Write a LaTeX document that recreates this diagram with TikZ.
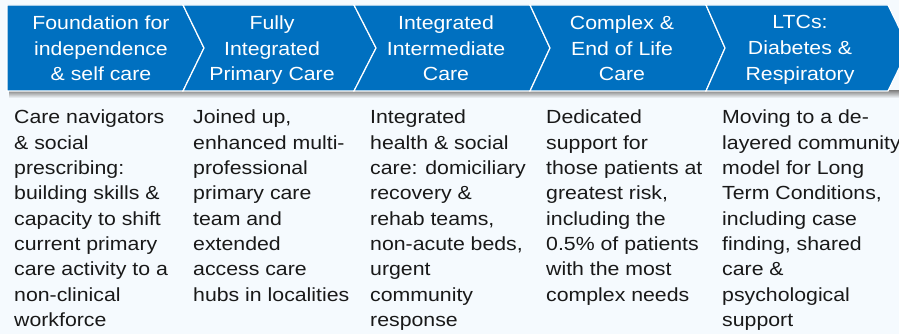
\documentclass[tikz,border=0pt]{standalone}
\usepackage{fontspec}
\setmainfont{Liberation Sans}[FakeStretch=1.12]
\usepackage{xcolor}
\usepackage{tikz}
\usetikzlibrary{positioning,calc}

\definecolor{stageblue}{RGB}{0,112,192}
\definecolor{pagebg}{RGB}{245,250,254}
\definecolor{bodytext}{RGB}{25,25,25}

\begin{document}
\begin{tikzpicture}[x=1pt, y=-1pt,
  chevron/.style={fill=stageblue, draw=white, line width=1.2pt, line join=miter},
  stagehead/.style={anchor=north, inner sep=0pt, align=center, text=white, font=\fontsize{19}{25.7}\selectfont},
  stagebody/.style={anchor=north west, inner sep=0pt, align=left, text=bodytext, font=\fontsize{19}{25.3}\selectfont}]
\useasboundingbox (0,0) rectangle (899,334);
\fill[pagebg] (0,0) rectangle (899,334);

% Shadow under the band
\shade[top color=black!45, bottom color=pagebg] (9,91) rectangle (899,98);

% Chevrons
\draw[chevron] (7,5) -- (183,5) -- (204,48) -- (183,91) -- (7,91) -- cycle;
\draw[chevron] (183,5) -- (354,5) -- (376,48) -- (354,91) -- (183,91) -- (204,48) -- cycle;
\draw[chevron] (354,5) -- (530,5) -- (550,48) -- (530,91) -- (354,91) -- (376,48) -- cycle;
\draw[chevron] (530,5) -- (706,5) -- (725,48) -- (706,91) -- (530,91) -- (550,48) -- cycle;
\draw[chevron] (706,5) -- (888,5) -- (909,48) -- (888,91) -- (706,91) -- (725,48) -- cycle;

% Stage titles
\node[stagehead] (head1) at (101,15.5) {Foundation for\\independence\\\& self care};
\node[stagehead] (head2) at (272,15.5) {Fully\\Integrated\\Primary Care};
\node[stagehead] (head3) at (446,15.5) {Integrated\\Intermediate\\Care};
\node[stagehead] (head4) at (622,15.5) {Complex \&\\End of Life\\Care};
\node[stagehead] (head5) at (800,15.5) {LTCs:\\Diabetes \&\\Respiratory};

% Stage descriptions
\node[stagebody] (body1) at (14,110) {Care navigators\\\& social\\prescribing:\\building skills \&\\capacity to shift\\current primary\\care activity to a\\non-clinical\\workforce};
\node[stagebody] (body2) at (193,110) {Joined up,\\enhanced multi-\\professional\\primary care\\team and\\extended\\access care\\hubs in localities};
\node[stagebody] (body3) at (370,110) {Integrated\\health \& social\\care: domiciliary\\recovery \&\\rehab teams,\\non-acute beds,\\urgent\\community\\response};
\node[stagebody] (body4) at (546,110) {Dedicated\\support for\\those patients at\\greatest risk,\\including the\\0.5\% of patients\\with the most\\complex needs};
\node[stagebody] (body5) at (722,110) {Moving to a de-\\layered community\\model for Long\\Term Conditions,\\including case\\finding, shared\\care \&\\psychological\\support};
\end{tikzpicture}
\end{document}
